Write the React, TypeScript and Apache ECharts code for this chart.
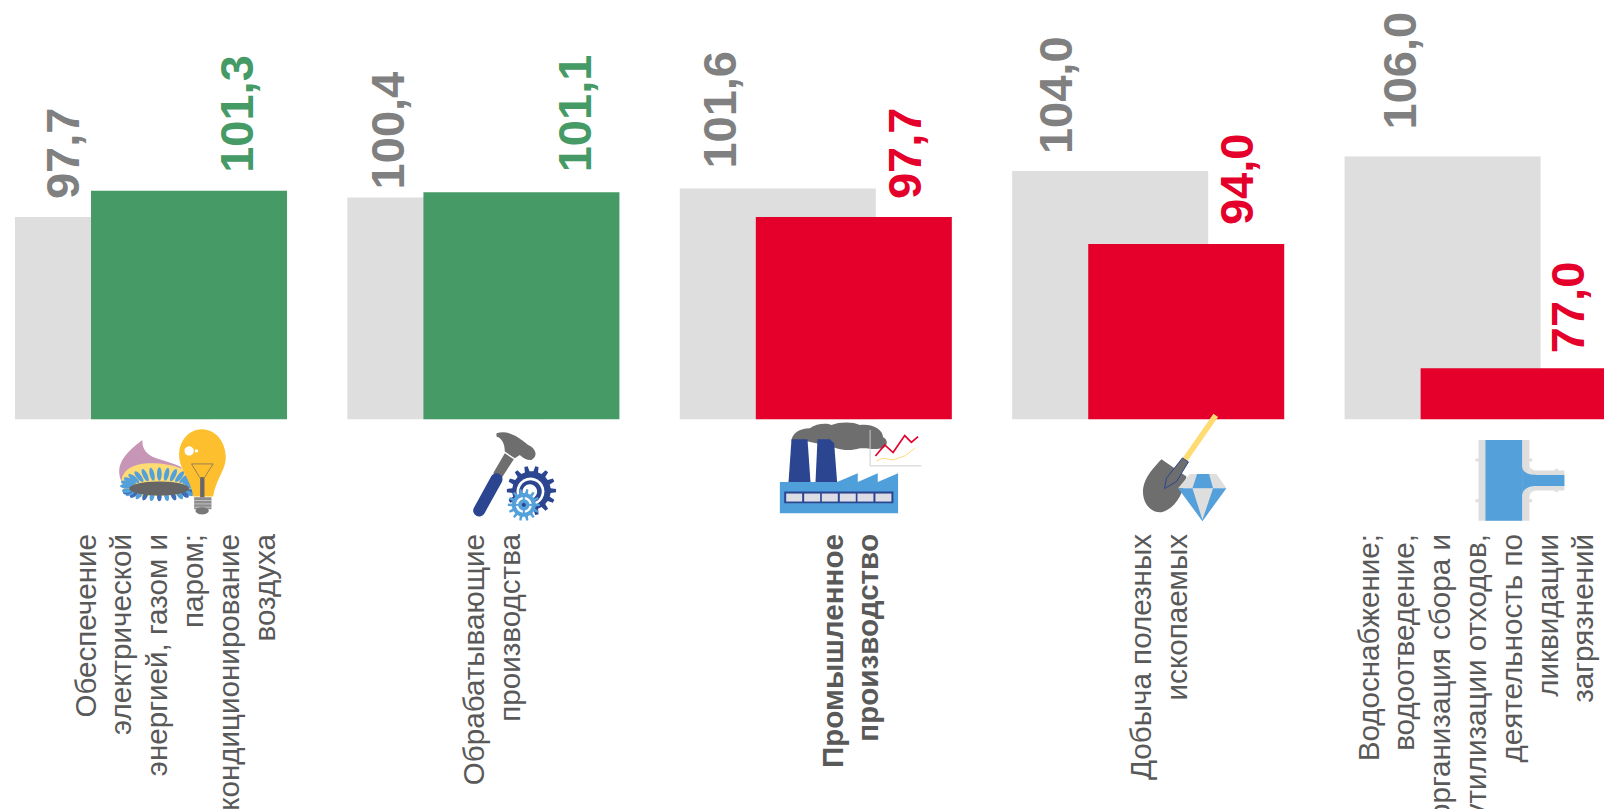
import React, { useEffect, useRef } from "react";
import * as echarts from "echarts";

const categories = [
  "Обеспечение\nэлектрической\nэнергией, газом и\nпаром;\nкондиционирование\nвоздуха",
  "Обрабатывающие\nпроизводства",
  "Промышленное\nпроизводство",
  "Добыча полезных\nископаемых",
  "Водоснабжение;\nводоотведение,\nорганизация сбора и\nутилизации отходов,\nдеятельность по\nликвидации\nзагрязнений",
];
const previousValues = [97.7, 100.4, 101.6, 104.0, 106.0];
const currentValues = [101.3, 101.1, 97.7, 94.0, 77.0];

const GREY_BAR = "#DEDEDE";
const GREEN = "#459A66";
const RED = "#E4002B";
const NAVY = "#2B4590";
const BLUE = "#54A0DA";
const SLATE = "#6E6E6E";

// Hand placement of the value labels, offset (screen dx, dy) from each bar's top centre.
const prevLabelOffset = [[-50, -18], [-58, -8], [-58, -20], [-55, -17], [-43, -27]];
const currLabelOffset = [[47, -18], [53, -20], [51, -18], [50, -19], [49, -15]];
// A label's offset is applied in its own rotated frame.
const rotatedOffset = ([dx, dy]: number[]) => [-dy, dx];
// Centre of each category caption block.
const captionCentreX = [174.5, 491.5, 850, 1158.5, 1475.5];
const boldCaption = [false, false, true, false, false];

const fmt = (v: number) => v.toFixed(1).replace(".", ",");

let registered = false;
const SHAPES: Record<string, string> = {
  flame: "M428 180C425 205 440 225 470 235C500 245 520 250 545 262L545 340L420 350C385 345 358 310 358 275C358 235 395 205 428 180Z",
  flameIn: "M365 300C370 265 410 250 450 250C490 250 530 255 560 275L575 345L400 350C380 345 365 325 365 300Z",
  bulb: "M607 148C650 148 678 190 678 232C678 270 650 295 640 350L580 350C575 300 538 270 538 225C538 185 565 148 607 148Z",
  hammer: "M530 160C560 150 590 165 625 195C650 205 655 230 635 240C625 242 610 235 600 225L585 235L555 215C555 190 545 175 530 170Z",
  smoke: "M455 185C455 160 480 145 510 145C530 130 560 128 575 135C600 125 640 125 660 135C700 130 730 150 730 172C745 180 745 195 730 205C700 210 690 205 660 205C640 212 610 212 590 205C570 200 530 190 505 185Z",
  blade: "M605 238L680 290C670 340 650 385 605 397C570 400 545 365 550 325C555 290 585 260 605 238Z",
  teeGrey: "M737 250C737 265 745 272 760 272L842 272L842 332L760 332C745 332 737 340 737 355Z",
  teeBlue: "M715 262C720 280 735 285 760 285L842 285L842 318L760 318C735 318 720 325 715 345Z",
};
function registerShapes() {
  if (registered) return;
  registered = true;
  Object.keys(SHAPES).forEach((k) => {
    echarts.graphic.registerShape(k, echarts.graphic.extendPath(SHAPES[k], {}));
  });
}

const Z = 20;
const sh = (type: string, fill: string) => ({ type, z: Z, silent: true, style: { fill } });
const poly = (pts: number[][], fill: string, extra: any = {}) => ({
  type: "polygon", z: Z, silent: true, shape: { points: pts }, style: { fill, ...extra },
});
const rect = (x: number, y: number, width: number, height: number, fill: string) => ({
  type: "rect", z: Z, silent: true, shape: { x, y, width, height }, style: { fill },
});
const circ = (cx: number, cy: number, r: number, fill: string) => ({
  type: "circle", z: Z, silent: true, shape: { cx, cy, r }, style: { fill },
});
const seg = (x1: number, y1: number, x2: number, y2: number, stroke: string, lineWidth: number, lineCap = "butt") => ({
  type: "line", z: Z, silent: true, shape: { x1, y1, x2, y2 }, style: { stroke, lineWidth, lineCap },
});
const pline = (points: number[][], stroke: string, lineWidth: number) => ({
  type: "polyline", z: Z, silent: true, shape: { points }, style: { stroke, lineWidth, fill: "none" },
});
const gear = (cx: number, cy: number, ro: number, ri: number, n: number, fill: string) => {
  const pts: number[][] = [];
  for (let i = 0; i < n; i++) {
    const a = (i * 2 * Math.PI) / n;
    const s = Math.PI / n;
    [[-0.55, ri], [-0.3, ro], [0.3, ro], [0.55, ri]].forEach(([k, r]) => {
      pts.push([cx + r * Math.cos(a + k * s), cy + r * Math.sin(a + k * s)]);
    });
  }
  return poly(pts, fill);
};
const layer = (x: number, y: number, children: any[]) => ({
  type: "group", x, y, scaleX: 1 / 3, scaleY: 1 / 3, silent: true, children,
});

function burnerPetals() {
  const out: any[] = [];
  for (let i = 0; i <= 14; i++) {
    const t = (i * Math.PI) / 14;
    out.push({
      type: "ellipse", z: Z, silent: true,
      x: 478 + 98 * Math.cos(t), y: 318 - 36 * Math.sin(t),
      rotation: t - Math.PI / 2,
      shape: { cx: 0, cy: 0, rx: 7, ry: 20 }, style: { fill: BLUE },
    });
  }
  for (let i = 0; i <= 14; i++) {
    const t = (i * Math.PI) / 14;
    out.push({
      type: "ellipse", z: Z, silent: true,
      x: 478 + 98 * Math.cos(t), y: 332 + 18 * Math.sin(t),
      rotation: Math.PI / 2 - t,
      shape: { cx: 0, cy: 0, rx: 7, ry: 14 }, style: { fill: i % 2 ? "#3F6DB5" : BLUE },
    });
  }
  return out;
}

function iconGraphics() {
  const icon1 = layer(0, 380, [
    sh("flame", "#C795B5"),
    sh("flameIn", "#FFDC73"),
    ...burnerPetals(),
    { type: "ellipse", z: Z, silent: true, shape: { cx: 478, cy: 326, rx: 90, ry: 21 }, style: { fill: "#666666" } },
    sh("bulb", "#FDBF2D"),
    circ(568, 213, 14, "#FFFFFF"),
    circ(590, 213, 5, "#FFFFFF"),
    pline([[575, 252], [600, 293], [614, 293], [640, 252], [575, 252]], "#666666", 2),
    rect(601, 293, 13, 60, "#666666"),
    rect(583, 352, 52, 36, "#8C8C8C"),
    seg(583, 362, 635, 362, "#DEDEDE", 2),
    seg(583, 372, 635, 372, "#DEDEDE", 2),
    seg(583, 382, 635, 382, "#DEDEDE", 2),
    { type: "ellipse", z: Z, silent: true, shape: { cx: 607, cy: 393, rx: 20, ry: 11 }, style: { fill: "#777777" } },
  ]);
  const icon2 = layer(320, 380, [
    sh("hammer", SLATE),
    poly([[555, 220], [582, 238], [545, 295], [520, 280]], SLATE),
    seg(530, 298, 478, 392, NAVY, 36, "round"),
    gear(635, 332, 74, 58, 14, NAVY),
    circ(632, 335, 42, "#FFFFFF"),
    circ(632, 335, 34, NAVY),
    circ(630, 335, 22, "#FFFFFF"),
    gear(612, 375, 48, 36, 14, BLUE),
    circ(612, 375, 24, "#FFFFFF"),
    circ(612, 375, 17, BLUE),
    seg(612, 345, 612, 405, BLUE, 6),
    seg(582, 375, 642, 375, BLUE, 6),
    circ(612, 375, 6, NAVY),
  ]);
  const windows = [439, 493, 546, 600, 653, 707];
  const icon3 = layer(640, 380, [
    sh("smoke", SLATE),
    poly([[455, 178], [503, 178], [512, 306], [446, 306]], NAVY),
    poly([[533, 178], [570, 178], [583, 190], [592, 306], [527, 306]], NAVY),
    poly([[420, 306], [592, 306], [654, 280], [654, 306], [714, 280], [714, 306], [775, 280], [775, 400], [420, 400]], "#4F9FDA"),
    rect(433, 335, 328, 35, NAVY),
    ...windows.map((x) => rect(x, 341, 48, 24, "#DDDDE5")),
    pline([[691, 150], [691, 258], [845, 258]], "#CCCCCC", 3),
    pline([[707, 228], [735, 195], [760, 218], [795, 167], [815, 187], [835, 170]], RED, 5),
    pline([[710, 243], [730, 235], [760, 240], [795, 228], [825, 205]], "#FFD97A", 3),
  ]);
  const icon4 = layer(960, 380, [
    seg(768, 106, 675, 240, "#FFDC73", 17),
    sh("blade", SLATE),
    poly([[668, 234], [686, 246], [650, 305], [614, 326], [620, 295]], SLATE, { stroke: NAVY, lineWidth: 3 }),
    poly([[690, 282], [770, 282], [800, 325], [655, 325]], GREY_BAR),
    poly([[712, 282], [748, 282], [760, 325], [698, 325]], BLUE),
    poly([[655, 325], [800, 325], [728, 424]], BLUE),
    poly([[698, 325], [760, 325], [728, 420]], GREY_BAR),
  ]);
  const icon5 = layer(1284, 380, [
    rect(584, 180, 153, 243, GREY_BAR),
    sh("teeGrey", GREY_BAR),
    rect(575, 236, 10, 9, GREY_BAR),
    rect(575, 358, 10, 9, GREY_BAR),
    rect(736, 236, 9, 9, GREY_BAR),
    rect(736, 358, 9, 9, GREY_BAR),
    rect(813, 267, 10, 6, GREY_BAR),
    rect(813, 331, 10, 5, GREY_BAR),
    rect(605, 180, 110, 243, BLUE),
    sh("teeBlue", BLUE),
  ]);
  return [icon1, icon2, icon3, icon4, icon5];
}

function captionGraphics() {
  return categories.map((text, i) => ({
    type: "text",
    z: Z,
    silent: true,
    x: captionCentreX[i],
    y: 534,
    rotation: Math.PI / 2,
    style: {
      text,
      align: "right",
      verticalAlign: "middle",
      lineHeight: 35.8,
      fill: "#595959",
      font: `${boldCaption[i] ? "bold " : ""}29.6px "Liberation Sans"`,
    },
  }));
}

export default function App() {
  const ref = useRef<HTMLDivElement>(null);
  useEffect(() => {
    if (!ref.current) return;
    registerShapes();
    const chart = echarts.init(ref.current, undefined, { renderer: "svg" });
    const baseLabel = {
      show: true,
      position: "top",
      rotate: 90,
      align: "left",
      verticalAlign: "middle",
      distance: 0,
      fontFamily: "Liberation Sans",
      fontWeight: "bold",
      fontSize: 47,
      formatter: (p: any) => fmt(p.value),
    };
    chart.setOption({
      animation: false,
      backgroundColor: "#FFFFFF",
      grid: { left: -15.2, top: 17.8, width: 1662, height: 401.5, containLabel: false, outerBoundsMode: "none" },
      xAxis: {
        type: "category",
        data: categories,
        show: false,
        axisLabel: { show: false },
      },
      yAxis: { type: "value", min: 70, max: 125, show: false },
      series: [
        {
          type: "bar",
          barWidth: 196,
          barGap: "-61.2%",
          itemStyle: { color: GREY_BAR },
          label: { ...baseLabel, color: "#808080" },
          data: previousValues.map((value, i) => ({
            value,
            label: { offset: rotatedOffset(prevLabelOffset[i]) },
          })),
        },
        {
          type: "bar",
          barWidth: 196,
          data: currentValues.map((value, i) => {
            const color = value >= 100 ? GREEN : RED;
            return {
              value,
              itemStyle: { color },
              label: { ...baseLabel, color, offset: rotatedOffset(currLabelOffset[i]) },
            };
          }),
        },
      ],
      graphic: { elements: [...iconGraphics(), ...captionGraphics()] },
    });
    return () => chart.dispose();
  }, []);
  return <div ref={ref} style={{ position: "fixed", left: 0, top: 0, width: 1604, height: 809 }} />;
}
